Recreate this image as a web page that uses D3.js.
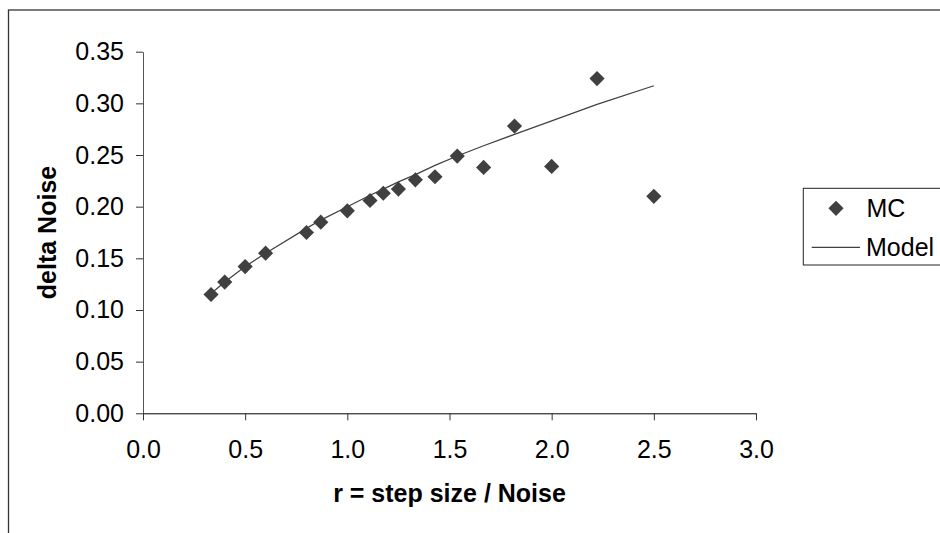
<!DOCTYPE html>
<html>
<head>
<meta charset="utf-8">
<script src="https://cdn.jsdelivr.net/npm/d3@7"></script>
<style>
  html, body { margin: 0; padding: 0; background: #fff; }
  svg { display: block; font-family: Arial, "Liberation Sans", sans-serif; }
</style>
</head>
<body>
<svg id="chart" width="940" height="533"></svg>
<script>
// Step-size ratio r for each Monte Carlo run
const ratio = [0.333, 0.4, 0.5, 0.6, 0.8, 0.87, 1.0, 1.111, 1.176, 1.25, 1.333, 1.429, 1.538, 1.667, 1.818, 2.0, 2.222, 2.5];
// Monte Carlo delta noise
const mcValues = [0.115, 0.127, 0.142, 0.155, 0.175, 0.185, 0.196, 0.206, 0.213, 0.217, 0.226, 0.229, 0.249, 0.238, 0.278, 0.239, 0.324, 0.210];
// Model delta noise at the same ratios
const modelValues = [0.116, 0.127, 0.142, 0.155, 0.179, 0.187, 0.200, 0.211, 0.217, 0.224, 0.231, 0.240, 0.249, 0.259, 0.270, 0.283, 0.299, 0.317];

const xTicks = [0, 0.5, 1.0, 1.5, 2.0, 2.5, 3.0];
const yTicks = [0, 0.05, 0.10, 0.15, 0.20, 0.25, 0.30, 0.35];
const seriesNames = ["MC", "Model"];
const xTitle = "r = step size / Noise";
const yTitle = "delta Noise";

const svg = d3.select("#chart");
const ink = "#404040";
const fontSize = 25;

// Chart frame
svg.append("rect")
  .attr("x", 8.5).attr("y", 10)
  .attr("width", 1000).attr("height", 600)
  .attr("fill", "none").attr("stroke", "#333").attr("stroke-width", 1.3);

const x = d3.scaleLinear().domain([0, 3]).range([143, 756]);
const y = d3.scaleLinear().domain([0, 0.35]).range([413.3, 51.7]);

// Y axis
const yAxis = svg.append("g")
  .attr("transform", `translate(${x(0)},0)`)
  .call(d3.axisLeft(y).tickValues(yTicks).tickFormat(d3.format(".2f")).tickSize(7).tickPadding(12).tickSizeOuter(0));
yAxis.select(".domain").attr("stroke", "#555");
yAxis.selectAll(".tick line").attr("stroke", "#333");
yAxis.selectAll("text").attr("font-size", fontSize).attr("fill", "#000")
  .attr("font-family", "Arial, 'Liberation Sans', sans-serif");

// X axis
const xAxis = svg.append("g")
  .attr("transform", `translate(0,${y(0)})`)
  .call(d3.axisBottom(x).tickValues(xTicks).tickFormat(d3.format(".1f")).tickSize(7).tickPadding(20).tickSizeOuter(0));
xAxis.select(".domain").attr("stroke", "#000");
xAxis.selectAll(".tick line").attr("stroke", "#333");
xAxis.selectAll("text").attr("font-size", fontSize).attr("fill", "#000")
  .attr("font-family", "Arial, 'Liberation Sans', sans-serif");

// Axis titles
svg.append("text")
  .attr("x", (x(0) + x(3)) / 2).attr("y", 501.5)
  .attr("text-anchor", "middle")
  .attr("font-size", fontSize).attr("font-weight", "bold")
  .text(xTitle);

svg.append("text")
  .attr("transform", `translate(56,232.5) rotate(-90)`)
  .attr("text-anchor", "middle")
  .attr("font-size", fontSize).attr("font-weight", "bold")
  .text(yTitle);

// Model curve
const modelPts = ratio.map((r, i) => [r, modelValues[i]]);
svg.append("path")
  .datum(modelPts)
  .attr("fill", "none")
  .attr("stroke", ink)
  .attr("stroke-width", 1.2)
  .attr("d", d3.line().x(d => x(d[0])).y(d => y(d[1])));

// MC markers (diamonds)
const diamond = d3.symbol().type(d3.symbolSquare).size(115);
svg.append("g").selectAll("path")
  .data(ratio.map((r, i) => [r, mcValues[i]]))
  .join("path")
  .attr("d", diamond)
  .attr("transform", d => `translate(${x(d[0])},${y(d[1])}) rotate(45)`)
  .attr("fill", ink);

// Legend
const lg = svg.append("g");
lg.append("rect")
  .attr("x", 803.3).attr("y", 188.3)
  .attr("width", 300).attr("height", 76.7)
  .attr("fill", "#fff").attr("stroke", "#222").attr("stroke-width", 1);
lg.append("path")
  .attr("d", diamond)
  .attr("transform", "translate(836,208.3) rotate(45)")
  .attr("fill", ink);
lg.append("line")
  .attr("x1", 811.7).attr("x2", 860).attr("y1", 247.3).attr("y2", 247.3)
  .attr("stroke", ink).attr("stroke-width", 1.2);
lg.append("text").attr("x", 866.5).attr("y", 216.5)
  .attr("font-size", fontSize).text(seriesNames[0]);
lg.append("text").attr("x", 866).attr("y", 255.5)
  .attr("font-size", fontSize).text(seriesNames[1]);
</script>
</body>
</html>
